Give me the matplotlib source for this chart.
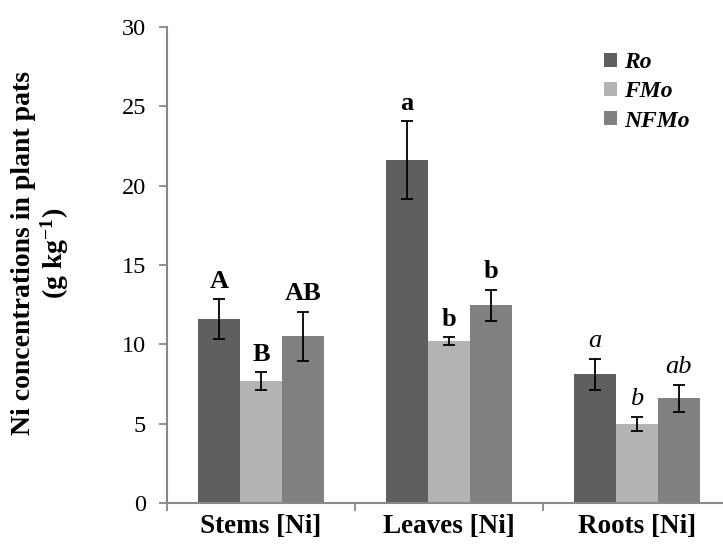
import matplotlib
matplotlib.use("Agg")
import matplotlib.pyplot as plt
import numpy as np
from matplotlib.patches import Patch

plt.rcParams['font.family'] = ['Liberation Serif', 'DejaVu Serif']
plt.rcParams['mathtext.fontset'] = 'custom'
plt.rcParams['mathtext.rm'] = 'Liberation Serif'
plt.rcParams['mathtext.bf'] = 'Liberation Serif:bold'
plt.rcParams['mathtext.it'] = 'Liberation Serif:italic'

categories = ["Stems [Ni]", "Leaves [Ni]", "Roots [Ni]"]
series = ["Ro", "FMo", "NFMo"]
ro = [11.6, 21.6, 8.1]
fmo = [7.7, 10.2, 5.0]
nfmo = [10.5, 12.45, 6.6]
ro_err = [1.25, 2.45, 1.0]
fmo_err = [0.55, 0.25, 0.45]
nfmo_err = [1.55, 1.0, 0.85]
ro_letters = ["A", "a", "a"]
fmo_letters = ["B", "b", "b"]
nfmo_letters = ["AB", "b", "ab"]
yticks = [0, 5, 10, 15, 20, 25, 30]

colors = ["#5f5f5f", "#b3b3b3", "#808080"]

fig = plt.figure(figsize=(7.23, 5.49), dpi=100)
ax = fig.add_axes([167/723, 1-503/549, 564/723, (503-27)/549])

x = np.arange(len(categories))
w = 0.223
vals = [ro, fmo, nfmo]
errs = [ro_err, fmo_err, nfmo_err]
letters = [ro_letters, fmo_letters, nfmo_letters]
for i, (v, e, c, lab, let) in enumerate(zip(vals, errs, colors, series, letters)):
    xs = x + (i - 1) * w
    ax.bar(xs, v, width=w, color=c, edgecolor='none', label=lab, zorder=2)
    ax.errorbar(xs, v, yerr=e, fmt='none', ecolor='black', elinewidth=1.3,
                capsize=4.2, capthick=1.3, zorder=3)
    for j in range(len(categories)):
        italic = (j == 2)
        ax.text(xs[j], v[j] + e[j] + 0.4, let[j], ha='center', va='bottom',
                fontsize=19, fontweight='normal' if italic else 'bold',
                style='italic' if italic else 'normal', zorder=4)

ax.set_xlim(-0.5, 2.5)
ax.set_ylim(0, 30)
ax.set_yticks(yticks)
ax.set_yticklabels([str(t) for t in yticks], fontsize=17.5)
ax.set_xticks(x)
ax.set_xticklabels(categories, fontsize=19.5, fontweight='bold')
ax.set_xticks([-0.5, 0.5, 1.5, 2.5], minor=True)
ax.tick_params(axis='x', which='major', length=0, pad=8)
ax.tick_params(axis='x', which='minor', length=6, width=1.3, color='#888888')
ax.tick_params(axis='y', length=6, width=1.3, color='#888888', pad=9)

for s in ['top', 'right']:
    ax.spines[s].set_visible(False)
for s in ['left', 'bottom']:
    ax.spines[s].set_color('#888888')
    ax.spines[s].set_linewidth(1.5)

fig.text(41/723, 1-253/549,
         "Ni concentrations in plant pats\n(g kg$^{\\mathbf{-1}}$)",
         rotation=90, ha='center', va='center', multialignment='center',
         fontsize=20, fontweight='bold', linespacing=1.1)

handles = [Patch(facecolor=c, edgecolor='none') for c in colors]
leg = fig.legend(handles, series, loc='upper left', bbox_to_anchor=(604/723, 1-52/549),
                 frameon=False, handlelength=0.55, handleheight=0.55, handletextpad=0.3,
                 labelspacing=0.35, borderpad=0, borderaxespad=0,
                 prop={'family': 'Liberation Serif', 'weight': 'bold', 'style': 'italic', 'size': 17})

fig.savefig("out.png", dpi=100)
